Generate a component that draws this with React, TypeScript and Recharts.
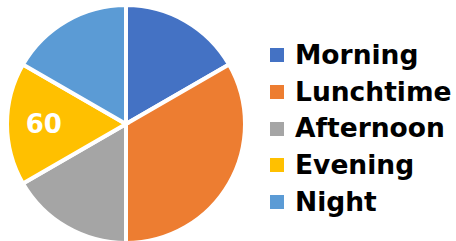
import React from 'react';
import { Cell, Legend, Pie, PieChart } from 'recharts';

const categories = ['Morning', 'Lunchtime', 'Afternoon', 'Evening', 'Night'];
const values = [60, 120, 60, 60, 60];
const colors = ['#4472C4', '#ED7D31', '#A5A5A5', '#FFC000', '#5B9BD5'];
// only one slice carries a data label in the original
const labelled = ['Evening'];

const data = categories.map((name, i) => ({ name, value: values[i] }));

const RADIAN = Math.PI / 180;

const renderLabel = ({ cx, cy, midAngle, outerRadius, name, value }: any) => {
  if (!labelled.includes(name)) return null;
  const r = outerRadius * 0.69;
  const x = cx + r * Math.cos(-midAngle * RADIAN);
  const y = cy + r * Math.sin(-midAngle * RADIAN);
  return (
    <text
      x={x}
      y={y}
      fill="#fff"
      textAnchor="middle"
      dominantBaseline="central"
      fontFamily="DejaVu Sans"
      fontWeight="bold"
      fontSize={26}
    >
      {value}
    </text>
  );
};

// legend keeps the series order (recharts 3 sorts the payload by name)
const LegendContent = () => (
  <div style={{ display: 'flex', flexDirection: 'column' }}>
    {categories.map((name, i) => (
      <div
        key={`legend-${name}`}
        style={{ display: 'flex', alignItems: 'center', height: 36.7 }}
      >
        <span
          style={{
            display: 'inline-block',
            width: 14,
            height: 14,
            background: colors[i],
            marginRight: 11,
          }}
        />
        <span
          style={{
            fontFamily: 'DejaVu Sans',
            fontWeight: 'bold',
            fontSize: 26.5,
            color: '#000',
            lineHeight: 1,
            whiteSpace: 'nowrap',
          }}
        >
          {name}
        </span>
      </div>
    ))}
  </div>
);

export default function App() {
  return (
    <div style={{ position: 'absolute', left: 0, top: 0, background: '#fff' }}>
      <PieChart width={456} height={241} margin={{ top: 0, right: 0, bottom: 0, left: 0 }}>
        <Pie
          data={data}
          dataKey="value"
          nameKey="name"
          cx={126}
          cy={124}
          outerRadius={119}
          startAngle={90}
          endAngle={-270}
          stroke="#fff"
          strokeWidth={4}
          label={renderLabel}
          labelLine={false}
          isAnimationActive={false}
        >
          {data.map((entry, i) => (
            <Cell key={`slice-${entry.name}`} fill={colors[i]} />
          ))}
        </Pie>
        <Legend
          layout="vertical"
          content={<LegendContent />}
          wrapperStyle={{ left: 270, top: 37, width: 186 }}
        />
      </PieChart>
    </div>
  );
}
